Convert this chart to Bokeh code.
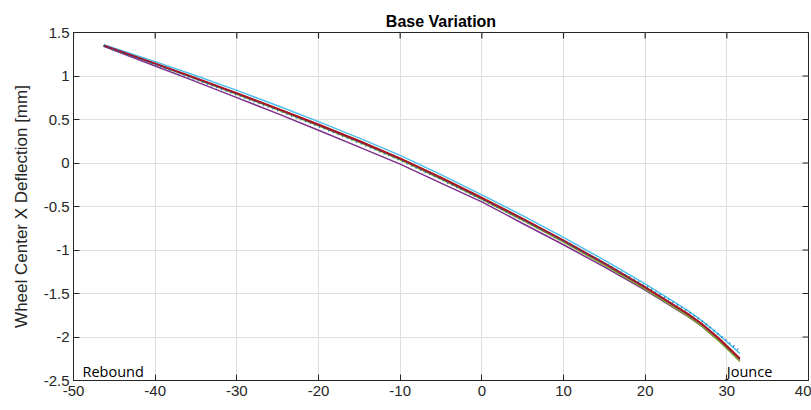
import math
from bokeh.plotting import figure
from bokeh.models import LinearAxis, Label, FixedTicker, Range1d
from bokeh.embed import file_html
from bokeh.resources import INLINE

# ---- data ----
wheel_travel = [-46.3, -40, -35, -30, -25, -20, -15, -10, -5, 0, 5, 10, 15, 20, 25, 27, 29, 31.6]

series_blue_dotted = [1.345, 1.13, 0.958, 0.782, 0.603, 0.42, 0.23, 0.03, -0.19, -0.42, -0.655, -0.895, -1.148, -1.41, -1.69, -1.82, -1.97, -2.16]
series_orange = [1.35, 1.146, 0.978, 0.805, 0.628, 0.446, 0.256, 0.056, -0.164, -0.397, -0.637, -0.887, -1.149, -1.424, -1.716, -1.85, -2.01, -2.245]
series_purple = [1.34, 1.115, 0.935, 0.752, 0.567, 0.376, 0.183, -0.013, -0.232, -0.447, -0.695, -0.94, -1.195, -1.462, -1.75, -1.882, -2.04, -2.27]
series_green = [1.35, 1.137, 0.965, 0.79, 0.611, 0.428, 0.237, 0.036, -0.185, -0.418, -0.659, -0.91, -1.174, -1.45, -1.745, -1.882, -2.044, -2.28]
series_cyan = [1.36, 1.165, 1.003, 0.835, 0.658, 0.476, 0.286, 0.087, -0.134, -0.366, -0.605, -0.855, -1.117, -1.39, -1.683, -1.817, -1.97, -2.19]
series_darkred = [1.35, 1.142, 0.973, 0.80, 0.6225, 0.44, 0.25, 0.05, -0.17, -0.4025, -0.6425, -0.8925, -1.155, -1.43, -1.7225, -1.8565, -2.0165, -2.2505]

x_ticks = [-50, -40, -30, -20, -10, 0, 10, 20, 30, 40]
x_tick_labels = ["-50", "-40", "-30", "-20", "-10", "0", "10", "20", "30", "40"]
y_ticks = [-2.5, -2, -1.5, -1, -0.5, 0, 0.5, 1, 1.5]
y_tick_labels = ["-2.5", "-2", "-1.5", "-1", "-0.5", "0", "0.5", "1", "1.5"]

title_text = "Base Variation"
y_label = "Wheel Center X Deflection [mm]"
rebound_text = "Rebound"
jounce_text = "Jounce"

FONT = "Liberation Sans"
X_MIN, X_MAX, Y_MIN, Y_MAX = -50, 40, -2.5, 1.5
AXIS_COLOR = "#262626"

p = figure(width=811, height=410, output_backend="svg", toolbar_location=None,
           x_range=Range1d(X_MIN, X_MAX), y_range=Range1d(Y_MIN, Y_MAX),
           min_border_left=73, min_border_right=3, min_border_top=32, min_border_bottom=30,
           x_axis_location=None, y_axis_location=None)

p.title.text = title_text
p.title.align = "center"
p.title.text_font = FONT
p.title.text_font_size = "16px"
p.title.text_font_style = "bold"
p.title.text_color = "black"
p.title.standoff = 6
p.title.offset = 0

p.outline_line_color = AXIS_COLOR
p.outline_line_width = 1
p.background_fill_color = "white"
p.border_fill_color = "white"

xb = LinearAxis(ticker=FixedTicker(ticks=x_ticks),
                major_label_overrides={t: l for t, l in zip(x_ticks, x_tick_labels)})
yl = LinearAxis(ticker=FixedTicker(ticks=y_ticks),
                major_label_overrides={t: l for t, l in zip(y_ticks, y_tick_labels)},
                axis_label=y_label)

for ax in (xb, yl):
    ax.major_tick_in = 6
    ax.major_tick_out = 0
    ax.minor_tick_in = 0
    ax.minor_tick_out = 0
    ax.axis_line_color = AXIS_COLOR
    ax.major_tick_line_color = AXIS_COLOR
    ax.major_label_text_font = FONT
    ax.major_label_text_color = AXIS_COLOR
    ax.major_label_text_font_size = "15px"

xb.major_label_standoff = 5
yl.major_label_standoff = 4

yl.axis_label_text_font = FONT
yl.axis_label_text_font_size = "17px"
yl.axis_label_text_font_style = "normal"
yl.axis_label_text_color = AXIS_COLOR
yl.axis_label_standoff = 10

p.add_layout(xb, "below")
p.add_layout(yl, "left")

p.xgrid.ticker = FixedTicker(ticks=x_ticks)
p.ygrid.ticker = FixedTicker(ticks=y_ticks)
p.xgrid.grid_line_color = "#dfdfdf"
p.ygrid.grid_line_color = "#dfdfdf"

# inward tick marks on top and right edges (clipped to the frame)
p.scatter(x=x_ticks, y=[Y_MAX] * len(x_ticks), marker="dash", size=12, angle=math.pi / 2,
          line_color=AXIS_COLOR, line_width=1.2)
p.scatter(x=[X_MAX] * len(y_ticks), y=y_ticks, marker="dash", size=12,
          line_color=AXIS_COLOR, line_width=1.2)

p.line(wheel_travel, series_orange, line_color="#D95319", line_width=1.5)
p.line(wheel_travel, series_purple, line_color="#7E2F8E", line_width=1.5)
p.line(wheel_travel, series_green, line_color="#77AC30", line_width=1.5)
p.line(wheel_travel, series_cyan, line_color="#4DBEEE", line_width=1.5)
p.line(wheel_travel, series_darkred, line_color="#A2142F", line_width=2)
p.line(wheel_travel, series_blue_dotted, line_color="#0072BD", line_width=1.8, line_dash="1 4")

p.add_layout(Label(x=-48.9, y=-2.397, text=rebound_text, text_font="Open Sans",
                   text_font_size="14.5px", text_color="black", text_baseline="alphabetic"))
p.add_layout(Label(x=30, y=-2.397, text=jounce_text, text_font="Open Sans",
                   text_font_size="14.5px", text_color="black", text_baseline="alphabetic"))

open("out.html", "w").write(file_html(p, INLINE))
